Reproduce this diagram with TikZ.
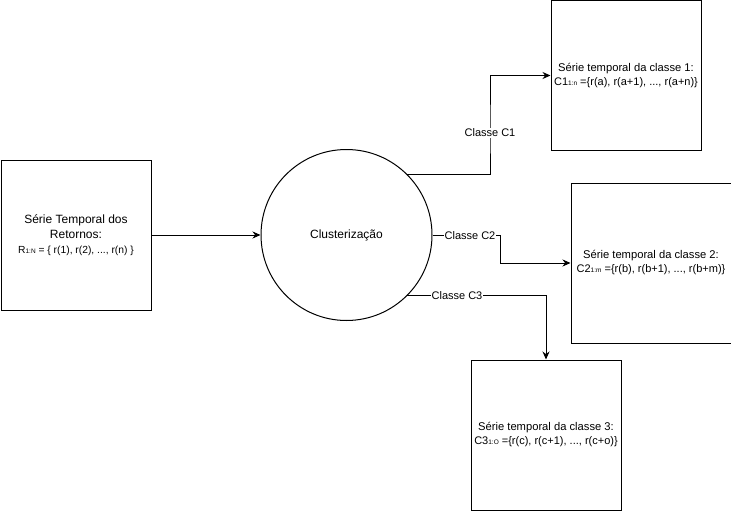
\documentclass[tikz,border=0pt]{standalone}
\usepackage{fontspec}
\setmainfont{Liberation Sans}
\usetikzlibrary{arrows.meta}
\newcommand{\sub}[1]{{\fontsize{6.5}{7}\selectfont #1}}
\newcommand{\setline}{\fontsize{11}{13}\selectfont}
\tikzset{
  box/.style={draw=black, line width=1pt, minimum width=150pt, minimum height=150pt,
    align=center, inner sep=0pt, font=\fontsize{11.2}{14}\selectfont},
  proc/.style={draw=black, line width=1pt, circle, minimum size=171pt, inner sep=0pt,
    font=\fontsize{12}{15}\selectfont},
  arr/.style={draw=black, line width=1pt, -{Stealth[length=8pt,width=7pt]}},
  tag/.style={fill=white, inner sep=1pt, font=\fontsize{11}{13}\selectfont}
}
\begin{document}
\begin{tikzpicture}[x=1pt,y=-1pt]
\useasboundingbox (0,0) rectangle (731,511);

% input series, clustering step and the three class series
\node[box, font=\fontsize{12}{15}\selectfont] (ret) at (76,235)
  {Série Temporal dos\\Retornos:\\{\fontsize{10.3}{12}\selectfont R\sub{1:N} = \{ r(1), r(2), ..., r(n) \}}};
\node[proc] (clu) at (346.5,235) {Clusterização};
\node[box] (c1) at (626,75.5) {Série temporal da classe 1:\\{\setline C1\sub{1:n} =\{r(a), r(a+1), ..., r(a+n)\}}};
\node[box, minimum width=160pt, minimum height=160pt] (c2) at (651,263) {Série temporal da classe 2:\\{\setline C2\sub{1:m} =\{r(b), r(b+1), ..., r(b+m)\}}};
\node[box] (c3) at (546,435) {Série temporal da classe 3:\\{\setline C3\sub{1:O} =\{r(c), r(c+1), ..., r(c+o)\}}};

% bend points of the routed connectors
\coordinate (k1) at (490,133);
\coordinate (k2) at (500,263);

% connectors
\draw[arr] (ret.east) -- (clu.west);
\draw[arr] (clu.45) -| (k1) |- (c1.west);
\draw[arr] (clu.east) -| (k2) -- (c2.west);
\draw[arr] (clu.-45) -| (c3.north);

% connector labels
\node[tag] (l1) at (k1) {Classe C1};
\node[tag] (l2) at (470,236) {Classe C2};
\node[tag] (l3) at (457,296) {Classe C3};
\end{tikzpicture}
\end{document}
